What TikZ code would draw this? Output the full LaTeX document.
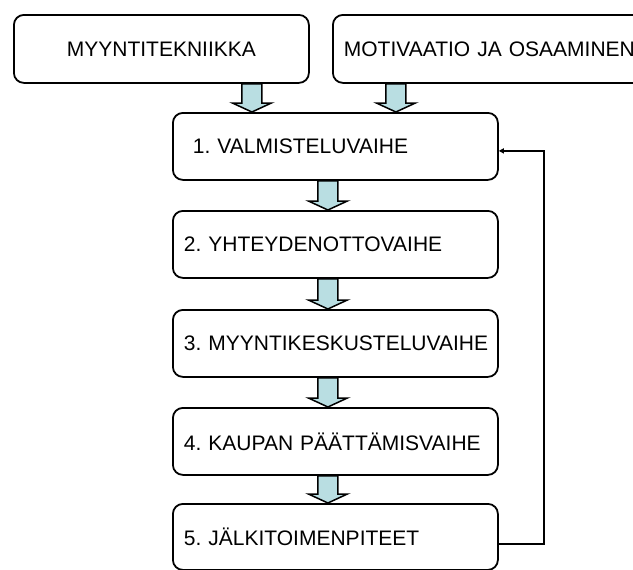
\documentclass[tikz,border=0pt]{standalone}
\usepackage{fontspec}
\setmainfont{Liberation Sans}
\frenchspacing
\usetikzlibrary{calc,arrows.meta}
\definecolor{arrowfill}{RGB}{185,222,226}
\begin{document}
\begin{tikzpicture}[x=1pt,y=-1pt,
  box/.style={draw=black, line width=1.8pt, rounded corners=10pt, inner sep=0pt,
    font=\fontsize{21}{24}\selectfont, anchor=north west, align=left},
  stepbox/.style={box, minimum width=325pt, minimum height=67pt, text width=303pt},
  blockarrow/.style={draw=black, fill=arrowfill, line width=1.5pt, line join=miter,
    to path={let \p1=(\tikztostart), \p2=(\tikztotarget) in
      (\x1-10pt,\y1) -- (\x1+10pt,\y1) -- (\x1+10pt,\y2+9pt) -- (\x1+19.5pt,\y2+9pt)
      -- (\x1,\y2) -- (\x1-19.5pt,\y2+9pt) -- (\x1-10pt,\y2+9pt) -- cycle}},
  feedback/.style={draw=black, line width=1.8pt, -{Triangle[length=5pt,width=5pt]}}
]
\useasboundingbox (0,0) rectangle (633,570);
\clip (0,0) rectangle (633,570);

\node[box, minimum width=295pt, minimum height=68pt, text width=295pt, align=center] (top1) at (13,14) {MYYNTITEKNIIKKA};
\node[box, minimum width=320pt, minimum height=68pt, text width=298pt] (top2) at (332,14) {\mbox{MOTIVAATIO JA OSAAMINEN}};

\node[stepbox, text width=285pt] (s1) at (172,112) {1. VALMISTELUVAIHE};
\node[stepbox] (s2) at (172,210) {\mbox{2. YHTEYDENOTTOVAIHE}};
\node[stepbox] (s3) at (172,309) {\mbox{3. MYYNTIKESKUSTELUVAIHE}};
\node[stepbox] (s4) at (172,407) {\mbox{4. KAUPAN PÄÄTTÄMISVAIHE}};
\node[stepbox, minimum height=66pt] (s5) at (172,503) {\mbox{5. JÄLKITOIMENPITEET}};

\draw[blockarrow] ([xshift=90.5pt]top1.south) to (s1.north);
\draw[blockarrow] ([xshift=-97pt]top2.south) to (s1.north);
\draw[blockarrow] ([xshift=-7.5pt]s1.south) to (s2.north);
\draw[blockarrow] ([xshift=-7.5pt]s2.south) to (s3.north);
\draw[blockarrow] ([xshift=-7.5pt]s3.south) to (s4.north);
\draw[blockarrow] ([xshift=-7.5pt]s4.south) to (s5.north);

\draw[feedback] ([yshift=-7pt]s5.east) -- ++(45.5pt,0pt) |- ([yshift=-4.5pt]s1.east);
\end{tikzpicture}
\end{document}
